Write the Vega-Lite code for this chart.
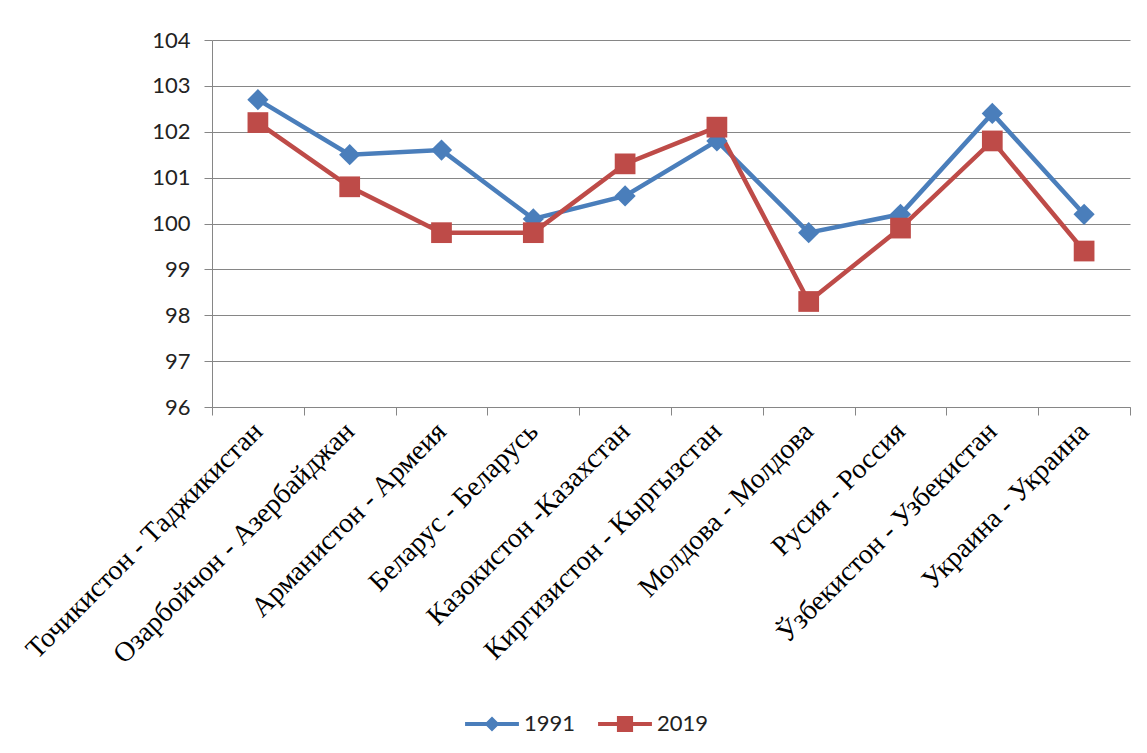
{
  "$schema": "https://vega.github.io/schema/vega-lite/v6.json",
  "width": 918,
  "height": 367,
  "autosize": {"type": "none"},
  "padding": {"left": 212, "top": 40, "right": 17, "bottom": 346},
  "background": "white",
  "config": {"view": {"stroke": null}},
  "data": {
    "values": [
      {"country": "Точикистон - Таджикистан", "year": "1991", "value": 102.7},
      {"country": "Озарбойчон - Азербайджан", "year": "1991", "value": 101.5},
      {"country": "Арманистон - Армеия", "year": "1991", "value": 101.6},
      {"country": "Беларус - Беларусь", "year": "1991", "value": 100.1},
      {"country": "Казокистон -Казахстан", "year": "1991", "value": 100.6},
      {"country": "Киргизистон - Кыргызстан", "year": "1991", "value": 101.8},
      {"country": "Молдова - Молдова", "year": "1991", "value": 99.8},
      {"country": "Русия - Россия", "year": "1991", "value": 100.2},
      {"country": "Ўзбекистон - Узбекистан", "year": "1991", "value": 102.4},
      {"country": "Украина - Украина", "year": "1991", "value": 100.2},
      {"country": "Точикистон - Таджикистан", "year": "2019", "value": 102.2},
      {"country": "Озарбойчон - Азербайджан", "year": "2019", "value": 100.8},
      {"country": "Арманистон - Армеия", "year": "2019", "value": 99.8},
      {"country": "Беларус - Беларусь", "year": "2019", "value": 99.8},
      {"country": "Казокистон -Казахстан", "year": "2019", "value": 101.3},
      {"country": "Киргизистон - Кыргызстан", "year": "2019", "value": 102.1},
      {"country": "Молдова - Молдова", "year": "2019", "value": 98.3},
      {"country": "Русия - Россия", "year": "2019", "value": 99.9},
      {"country": "Ўзбекистон - Узбекистан", "year": "2019", "value": 101.8},
      {"country": "Украина - Украина", "year": "2019", "value": 99.4}
    ]
  },
  "encoding": {
    "x": {
      "field": "country",
      "type": "nominal",
      "sort": null,
      "bandPosition": 0.5,
      "scale": {"type": "band", "paddingInner": 0, "paddingOuter": 0},
      "axis": {
        "title": null,
        "tickBand": "extent",
        "grid": false,
        "labelAngle": -45,
        "labelAlign": "right",
        "labelBaseline": "middle",
        "labelFont": "Liberation Serif",
        "labelFontSize": 28,
        "labelColor": "#000000",
        "labelPadding": 12,
        "labelLimit": 0,
        "labelOverlap": false,
        "domainColor": "#868686",
        "tickColor": "#868686",
        "tickSize": 8
      }
    },
    "y": {
      "field": "value",
      "type": "quantitative",
      "scale": {"domain": [96, 104], "nice": false, "zero": false},
      "axis": {
        "title": null,
        "values": [96, 97, 98, 99, 100, 101, 102, 103, 104],
        "grid": true,
        "gridColor": "#868686",
        "domainColor": "#868686",
        "tickColor": "#868686",
        "tickSize": 8,
        "labelFont": "Lato",
        "labelFontSize": 22,
        "labelColor": "#222222",
        "labelPadding": 14
      }
    },
    "color": {
      "field": "year",
      "type": "nominal",
      "scale": {"domain": ["1991", "2019"], "range": ["#4A7EBB", "#BE4B48"]},
      "legend": {
        "title": null,
        "orient": "none",
        "legendX": 253,
        "legendY": 657,
        "direction": "horizontal",
        "symbolSize": 2900,
        "labelFont": "Lato",
        "labelFontSize": 22,
        "labelColor": "#222222",
        "labelOffset": 5,
        "columnPadding": 22,
        "encode": {
          "symbols": {
            "update": {
              "shape": {"signal": "datum.label == '1991' ? 'M-1,-0.075H1V0.075H-1Z M-0.28,0L0,-0.28L0.28,0L0,0.28Z' : 'M-1,-0.075H1V0.075H-1Z M-0.3,-0.3H0.3V0.3H-0.3Z'"},
              "fill": {"scale": "color", "field": "value"},
              "fillOpacity": {"value": 1},
              "strokeWidth": {"value": 0},
              "opacity": {"value": 1}
            }
          }
        }
      }
    }
  },
  "layer": [
    {
      "mark": {"type": "line", "strokeWidth": 4.5},
      "encoding": {
        "detail": {"field": "year"}
      }
    },
    {
      "transform": [{"filter": "datum.year == '1991'"}],
      "mark": {"type": "point", "filled": true, "opacity": 1, "size": 450, "shape": "diamond"}
    },
    {
      "transform": [{"filter": "datum.year == '2019'"}],
      "mark": {"type": "point", "filled": true, "opacity": 1, "size": 430, "shape": "square"}
    }
  ]
}
